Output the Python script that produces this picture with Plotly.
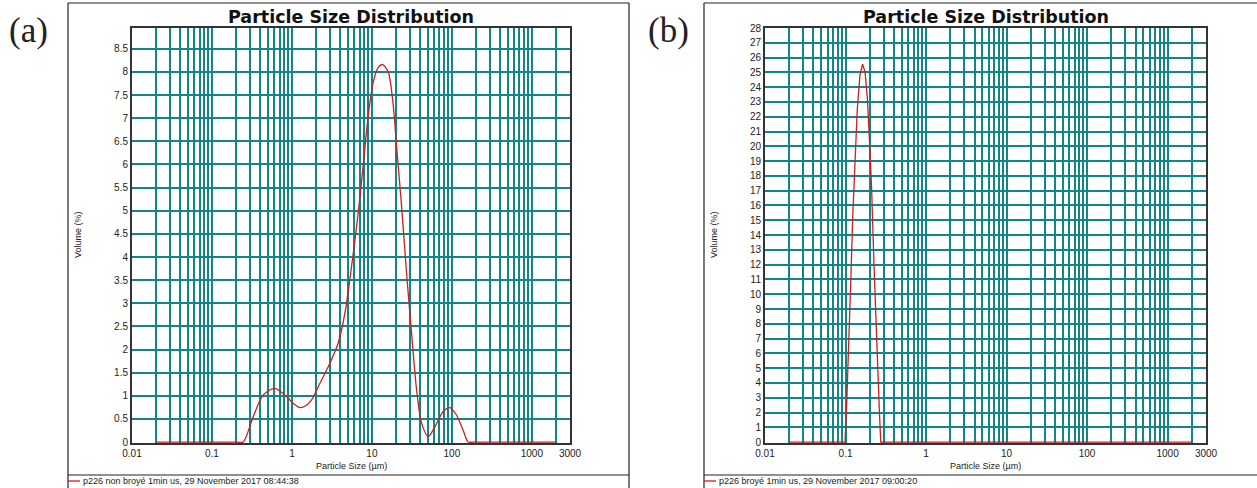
import math
import plotly.graph_objects as go

# ---------------- data ----------------
size_a = [0.02, 0.05, 0.15, 0.21, 0.246, 0.328, 0.438, 0.613, 0.857, 1.05, 1.26, 1.5, 1.76,
          2.24, 2.99, 3.79, 4.6, 5.57, 6.75, 7.77, 9.0, 10.4, 12.0, 13.6, 16.0, 18.5, 20.3,
          23.5, 27.1, 31.3, 36.2, 41.8, 50.6, 61.3, 77.9, 94.4, 114, 138, 160, 185, 300,
          1000, 2000]
vol_a = [0, 0, 0, 0, 0, 0.55, 1.02, 1.16, 0.98, 0.83, 0.745, 0.79, 0.91,
         1.27, 1.71, 2.14, 2.79, 3.80, 4.96, 5.97, 7.06, 7.78, 8.1, 8.16, 8.0, 7.27, 6.41,
         5.10, 3.66, 2.36, 1.13, 0.41, 0.12, 0.33, 0.66, 0.745, 0.585, 0.26, 0, 0, 0,
         0, 0]

size_b = [0.02, 0.0986, 0.1035, 0.108, 0.116, 0.123, 0.131, 0.140, 0.151, 0.163,
          0.175, 0.187, 0.201, 0.211, 0.226, 0.244, 0.263, 0.274, 2000]
vol_b = [0, 0, 2.62, 6.24, 10.76, 15.3, 19.3, 22.5, 24.8, 25.56,
         25.0, 23.2, 19.8, 17.1, 11.9, 6.24, 2.17, 0, 0]

x_tickvals = [0.01, 0.1, 1, 10, 100, 1000, 3000]
x_ticktext = ["0.01", "0.1", "1", "10", "100", "1000", "3000"]
yticks_a = [i * 0.5 for i in range(18)]
ytext_a = [("%g" % v) for v in yticks_a]
yticks_b = list(range(29))

title_text = "Particle Size Distribution"
xlabel = "Particle Size (µm)"
ylabel = "Volume (%)"
legend_a = "p226 non broyé 1min us, 29 November 2017 08:44:38"
legend_b = "p226 broyé 1min us, 29 November 2017 09:00:20"

# ---------------- layout geometry ----------------
W, H = 1257, 488
def px(x):
    return x / W
def py(y):
    return 1 - y / H

GRID = "#118686"
LINE = "#cc1f1f"
FONT = "Liberation Sans"

minor_vals = [m * 10 ** e for e in range(-2, 4) for m in range(2, 10) if m * 10 ** e < 3000]

fig = go.Figure()
fig.add_trace(go.Scatter(x=size_a, y=vol_a, mode="lines", xaxis="x", yaxis="y",
                         line=dict(color=LINE, width=1.3, shape="spline", smoothing=0.8),
                         showlegend=False))
fig.add_trace(go.Scatter(x=size_b, y=vol_b, mode="lines", xaxis="x2", yaxis="y2",
                         line=dict(color=LINE, width=1.3), showlegend=False))

def xax(domain, anchor):
    return dict(type="log", range=[-2, math.log10(3000)], domain=domain, anchor=anchor,
                tickmode="array", tickvals=x_tickvals, ticktext=x_ticktext,
                showgrid=True, gridcolor=GRID, gridwidth=1.6,
                minor=dict(tickmode="array", tickvals=minor_vals, showgrid=True,
                           gridcolor=GRID, gridwidth=1.6, ticks=""),
                showline=True, mirror=True, linecolor="#333333", linewidth=2,
                ticks="", tickfont=dict(family=FONT, size=10, color="#222222"),
                zeroline=False, automargin=False, layer="below traces")

def yax(domain, anchor, rng, tv, tt):
    return dict(range=rng, domain=domain, anchor=anchor, tickmode="array",
                tickvals=tv, ticktext=tt, showgrid=True, gridcolor=GRID, gridwidth=1.6,
                showline=True, mirror=True, linecolor="#333333", linewidth=2,
                ticks="", tickfont=dict(family=FONT, size=10, color="#222222"),
                zeroline=False, automargin=False, layer="below traces")

ydom = [py(443), py(28)]
fig.update_layout(
    template="none",
    width=W, height=H, autosize=False,
    margin=dict(l=0, r=0, t=0, b=0, pad=0),
    paper_bgcolor="white", plot_bgcolor="white",
    xaxis=xax([px(132), px(570)], "y"),
    yaxis=yax(ydom, "x", [-0.02, 8.95], yticks_a, ytext_a),
    xaxis2=xax([px(765), px(1206)], "y2"),
    yaxis2=yax(ydom, "x2", [-0.06, 28], yticks_b, [str(v) for v in yticks_b]),
)

shapes = []
annotations = []
for (bx0, bx1, cx0, cx1, lab, lx, leg) in [
        (68, 629, 132, 570, "(a)", 28, legend_a),
        (704, 1262, 765, 1206, "(b)", 669, legend_b)]:
    # outer panel frame
    shapes.append(dict(type="line", xref="paper", yref="paper", x0=px(bx0), x1=px(bx1),
                       y0=py(3), y1=py(3), line=dict(color="#222222", width=1.2)))
    shapes.append(dict(type="line", xref="paper", yref="paper", x0=px(bx0), x1=px(bx0),
                       y0=py(3), y1=0, line=dict(color="#222222", width=1.2)))
    shapes.append(dict(type="line", xref="paper", yref="paper", x0=px(bx1), x1=px(bx1),
                       y0=py(3), y1=0, line=dict(color="#222222", width=1.2)))
    shapes.append(dict(type="line", xref="paper", yref="paper", x0=px(bx0), x1=px(bx1),
                       y0=py(475), y1=py(475), line=dict(color="#222222", width=1.2)))
    # legend key
    shapes.append(dict(type="line", xref="paper", yref="paper", x0=px(bx0), x1=px(bx0 + 12),
                       y0=py(481), y1=py(481), line=dict(color=LINE, width=1.3)))
    annotations.append(dict(text=leg, xref="paper", yref="paper", x=px(bx0 + 13), y=py(481),
                            xanchor="left", yanchor="middle", showarrow=False,
                            font=dict(family=FONT, size=9, color="#222222")))
    cx = (cx0 + cx1) / 2
    annotations.append(dict(text="<b>" + title_text + "</b>", xref="paper", yref="paper",
                            x=px(cx), y=py(17), xanchor="center", yanchor="middle",
                            showarrow=False, font=dict(family="DejaVu Sans", size=17.5, color="#111111")))
    annotations.append(dict(text=xlabel, xref="paper", yref="paper", x=px(cx), y=py(466),
                            xanchor="center", yanchor="middle", showarrow=False,
                            font=dict(family=FONT, size=9, color="#222222")))
    annotations.append(dict(text=ylabel, xref="paper", yref="paper", x=px(bx0 + 10), y=py(235),
                            xanchor="center", yanchor="middle", showarrow=False, textangle=-90,
                            font=dict(family=FONT, size=9, color="#222222")))
    annotations.append(dict(text=lab, xref="paper", yref="paper", x=px(lx), y=py(31),
                            xanchor="center", yanchor="middle", showarrow=False,
                            font=dict(family="Liberation Serif", size=35, color="#222222")))

fig.update_layout(shapes=shapes, annotations=annotations)
fig.write_html("out.html", config={"displayModeBar": False},
               post_script="document.body.style.margin='0px';document.body.style.overflow='hidden';")
